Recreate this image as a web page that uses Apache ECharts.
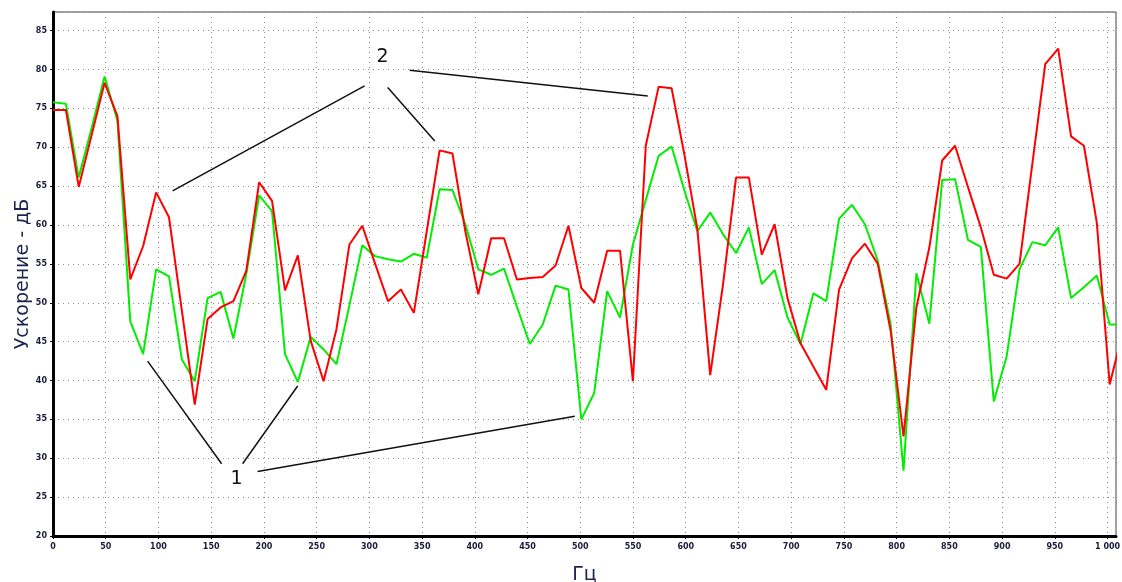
<!DOCTYPE html>
<html>
<head>
<meta charset="utf-8">
<style>html,body{margin:0;padding:0;background:#fff;}#c{width:1122px;height:582px;}</style>
<script src="https://cdn.jsdelivr.net/npm/echarts@6/dist/echarts.min.js"></script>
</head>
<body>
<div id="c"></div>
<script>
// Frequencies, Hz
const freqs = [0, 12.2, 24.4, 36.7, 48.9, 61.1, 73.3, 85.5, 97.8, 110, 122.2, 134.4, 146.6, 158.9, 171.1, 183.3, 195.5, 207.7, 220, 232.2, 244.4, 256.6, 268.8, 281.1, 293.3, 305.5, 317.7, 329.9, 342.2, 354.4, 366.6, 378.8, 391, 403.3, 415.5, 427.7, 439.9, 452.1, 464.4, 476.6, 488.8, 501, 513.2, 525.5, 537.7, 549.9, 562.1, 574.3, 586.6, 598.8, 611, 623.2, 635.4, 647.7, 659.9, 672.1, 684.3, 696.5, 708.8, 721, 733.2, 745.4, 757.6, 769.9, 782.1, 794.3, 806.5, 818.7, 831, 843.2, 855.4, 867.6, 879.8, 892.1, 904.3, 916.5, 928.7, 940.9, 953.2, 965.4, 977.6, 989.8, 1002, 1014];
// Red series (dB)
const redValues = [74.8, 74.8, 64.9, 71.6, 78.3, 74.0, 53.0, 57.3, 64.2, 61.0, 49.0, 36.9, 47.9, 49.4, 50.2, 54.1, 65.5, 63.1, 51.6, 56.1, 45.1, 39.9, 46.6, 57.5, 59.9, 55.0, 50.2, 51.7, 48.7, 59.2, 69.6, 69.2, 59.2, 51.1, 58.3, 58.3, 53.0, 53.2, 53.3, 54.8, 59.9, 51.9, 50.0, 56.7, 56.7, 39.9, 70.2, 77.8, 77.6, 69.0, 59.5, 40.7, 52.4, 66.1, 66.1, 56.2, 60.1, 50.6, 44.8, 41.8, 38.8, 51.7, 55.7, 57.6, 55.0, 46.4, 32.8, 49.4, 57.1, 68.3, 70.2, 64.9, 59.7, 53.6, 53.1, 55.0, 67.9, 80.7, 82.7, 71.4, 70.2, 60.3, 39.5, 46.0];
// Green series (dB)
const greenValues = [75.8, 75.6, 66.1, 72.5, 79.1, 73.4, 47.6, 43.4, 54.3, 53.4, 42.7, 39.9, 50.6, 51.4, 45.4, 53.7, 63.8, 61.8, 43.4, 39.8, 45.6, 44.0, 42.1, 49.7, 57.4, 56.0, 55.6, 55.3, 56.3, 55.8, 64.6, 64.5, 60.1, 54.3, 53.6, 54.4, 49.5, 44.7, 47.2, 52.2, 51.7, 35.0, 38.4, 51.5, 48.1, 57.5, 63.2, 68.9, 70.1, 64.4, 59.2, 61.6, 58.8, 56.4, 59.7, 52.4, 54.2, 48.1, 44.7, 51.2, 50.2, 60.8, 62.6, 60.1, 55.4, 47.2, 28.4, 53.8, 47.3, 65.8, 65.9, 58.1, 57.2, 37.3, 43.1, 54.3, 57.8, 57.4, 59.7, 50.6, 52.0, 53.5, 47.2, 47.2];
// Axis ticks
const yTicks = [20, 25, 30, 35, 40, 45, 50, 55, 60, 65, 70, 75, 80, 85];
const xTickLabels = {1000: '1 000'};
// Annotation leader lines in data coordinates [Hz, dB]
const leaders2 = [[[113.4, 64.4], [295.5, 77.9]], [[317.4, 77.7], [362, 70.8]], [[338.2, 79.9], [564, 76.6]]];
const leaders1 = [[[89.7, 42.5], [159.9, 29.3]], [[232, 39.3], [179.8, 29.3]], [[194, 28.3], [494.8, 35.4]]];
const labelPoints = [{text: '2', at: [312.6, 81.6]}, {text: '1', at: [174, 27.3]}];

const pair = (vals) => freqs.map((f, i) => [f, vals[i]]);
const chart = echarts.init(document.getElementById('c'), null, {renderer: 'canvas'});
const tickFont = {fontFamily: 'DejaVu Sans', fontSize: 8, color: '#1a1a3a', fontWeight: 'bold'};
const gridLine = {show: true, lineStyle: {color: '#8a8a8a', type: [1, 4], width: 1}};
chart.setOption({
  animation: false,
  backgroundColor: '#ffffff',
  grid: {left: 53, right: 6, top: 12, bottom: 46, outerBoundsMode: 'none', containLabel: false,
    show: true, borderColor: '#444', borderWidth: 1, backgroundColor: '#fff'},
  xAxis: {
    type: 'value', min: 0, max: 1008, interval: 50,
    name: 'Гц', nameLocation: 'middle', nameGap: 30,
    nameTextStyle: {fontFamily: 'DejaVu Sans', fontSize: 19, color: '#1c2550'},
    axisLine: {show: true, onZero: false, lineStyle: {color: '#000', width: 3}},
    axisTick: {show: true, length: 3, lineStyle: {color: '#000'}},
    axisLabel: Object.assign({}, tickFont, {margin: 7, showMaxLabel: false, formatter: v => xTickLabels[v] || String(v)}),
    splitLine: gridLine
  },
  yAxis: {
    type: 'value', min: 20, max: 87.4, interval: 5,
    name: 'Ускорение - дБ', nameLocation: 'middle', nameGap: 20, nameMoveOverlap: false,
    nameTextStyle: {fontFamily: 'DejaVu Sans', fontSize: 19, color: '#1c2550'},
    axisLine: {show: true, onZero: false, lineStyle: {color: '#000', width: 3}},
    axisTick: {show: true, length: 3, lineStyle: {color: '#000'}},
    axisLabel: Object.assign({}, tickFont, {margin: 6, showMaxLabel: false, formatter: v => yTicks.includes(v) ? String(v) : ''}),
    splitLine: gridLine
  },
  series: [
    {type: 'line', name: 'green', data: pair(greenValues), symbol: 'none', clip: true,
      lineStyle: {color: '#00ee00', width: 2}, z: 2},
    {type: 'line', name: 'red', data: pair(redValues), symbol: 'none', clip: true,
      lineStyle: {color: '#ff0000', width: 2}, z: 3},
    {type: 'line', name: 'notes', data: [], symbol: 'none', z: 4,
      markLine: {silent: true, symbol: 'none', animation: false,
        lineStyle: {color: '#111', width: 1.5, type: 'solid'}, label: {show: false},
        data: leaders2.concat(leaders1).map(seg => [{coord: seg[0]}, {coord: seg[1]}])},
      markPoint: {silent: true, symbol: 'circle', symbolSize: 1, itemStyle: {color: 'rgba(0,0,0,0)'},
        label: {show: true, position: 'inside', fontFamily: 'DejaVu Sans', fontSize: 19, color: '#111', formatter: p => p.name},
        data: labelPoints.map(l => ({name: l.text, coord: l.at}))}
    }
  ]
});
</script>
</body>
</html>
